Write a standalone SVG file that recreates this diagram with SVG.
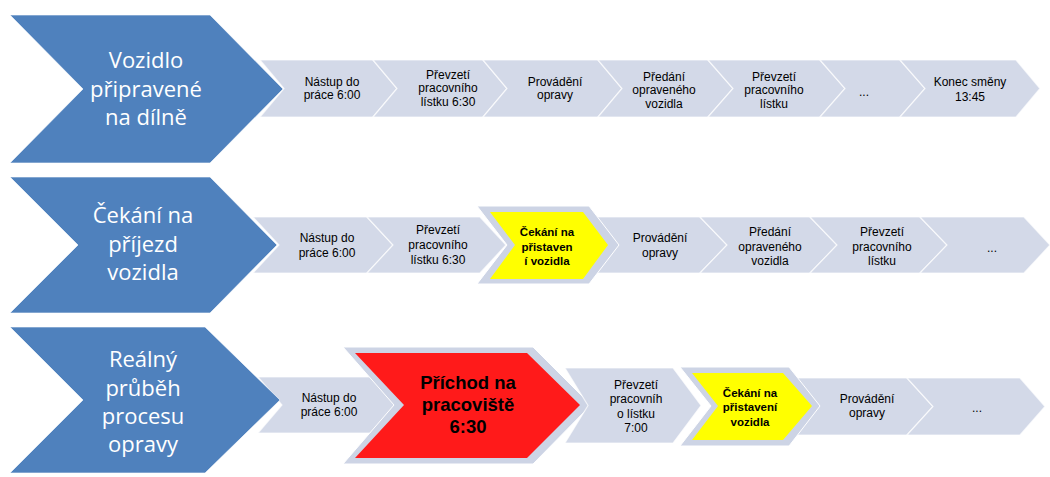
<svg xmlns="http://www.w3.org/2000/svg" width="1050" height="477" viewBox="0 0 1050 477">
<style>
.big{fill:#4F81BD;stroke:#ffffff;stroke-width:1;stroke-opacity:0.6}
.ch{fill:#D3D9E8;stroke:#ffffff;stroke-width:1.2;stroke-opacity:0.7}
.hl{fill:#CDD4E5;stroke:#ffffff;stroke-width:1}
.yel{fill:#FFFF00}
.red{fill:#FF1A1A}
.bt{font-family:"Open Sans","DejaVu Sans",sans-serif;font-size:22px;fill:#ffffff;text-anchor:middle}
.st{font-family:"Liberation Sans",Arial,sans-serif;font-size:12px;fill:#000000;text-anchor:middle}
.sb{font-family:"Liberation Sans",Arial,sans-serif;font-size:11.5px;font-weight:bold;fill:#000000;text-anchor:middle}
.rb{font-family:"Liberation Sans",Arial,sans-serif;font-size:18.5px;font-weight:bold;fill:#000000;text-anchor:middle}
</style>
<g id="connectors"></g>

<!-- Row 1 -->
<g id="r1-n1"><polygon class="ch" points="260,60 373,60 397,88.5 373,117 260,117 284,88.5"/><text class="st" x="332" y="86">Nástup do</text><text class="st" x="332" y="99">práce 6:00</text></g>
<g id="r1-n2"><polygon class="ch" points="373,60 483,60 507,88.5 483,117 373,117 397,88.5"/><text class="st" x="448" y="79">Převzetí</text><text class="st" x="448" y="92">pracovního</text><text class="st" x="448" y="106">lístku 6:30</text></g>
<g id="r1-n3"><polygon class="ch" points="483,60 598,60 622,88.5 598,117 483,117 507,88.5"/><text class="st" x="555" y="86">Provádění</text><text class="st" x="555" y="99">opravy</text></g>
<g id="r1-n4"><polygon class="ch" points="598,60 708,60 733,88.5 708,117 598,117 622,88.5"/><text class="st" x="664" y="81">Předání</text><text class="st" x="664" y="94">opraveného</text><text class="st" x="664" y="108">vozidla</text></g>
<g id="r1-n5"><polygon class="ch" points="708,60 820,60 845,88.5 820,117 708,117 733,88.5"/><text class="st" x="774" y="81">Převzetí</text><text class="st" x="774" y="94">pracovního</text><text class="st" x="774" y="108">lístku</text></g>
<g id="r1-n6"><polygon class="ch" points="820,60 900,60 925,88.5 900,117 820,117 845,88.5"/><text class="st" x="864" y="96">...</text></g>
<g id="r1-n7"><polygon class="ch" points="900,60 1016,60 1040,88.5 1016,117 900,117 925,88.5"/><text class="st" x="970" y="86">Konec směny</text><text class="st" x="970" y="101">13:45</text></g>
<g id="r1-main"><polygon class="big" points="10,15 210,15 283,89 210,163 10,163 83,89"/><text class="bt" x="146" y="68">Vozidlo</text><text class="bt" x="146" y="96.5">připravené</text><text class="bt" x="146" y="125">na dílně</text></g>

<!-- Row 2 -->
<g id="r2-n1"><polygon class="ch" points="253,217 367,217 393,245 367,273 253,273 279,245"/><text class="st" x="327" y="242">Nástup do</text><text class="st" x="327" y="257">práce 6:00</text></g>
<g id="r2-n2"><polygon class="ch" points="367,217 480,217 506,245 480,273 367,273 393,245"/><text class="st" x="438" y="234">Převzetí</text><text class="st" x="438" y="249">pracovního</text><text class="st" x="438" y="264">lístku 6:30</text></g>
<g id="r2-n4"><polygon class="ch" points="588,217 700,217 727,245 700,273 588,273 614,245"/><text class="st" x="660" y="242">Provádění</text><text class="st" x="660" y="257">opravy</text></g>
<g id="r2-n5"><polygon class="ch" points="700,217 810,217 837,245 810,273 700,273 727,245"/><text class="st" x="770" y="236">Předání</text><text class="st" x="770" y="251">opraveného</text><text class="st" x="770" y="265">vozidla</text></g>
<g id="r2-n6"><polygon class="ch" points="810,217 920,217 947,245 920,273 810,273 837,245"/><text class="st" x="882" y="236">Převzetí</text><text class="st" x="882" y="251">pracovního</text><text class="st" x="882" y="265">lístku</text></g>
<g id="r2-n7"><polygon class="ch" points="920,217 1024,217 1050,245 1024,273 920,273 947,245"/><text class="st" x="992" y="252">...</text></g>
<g id="r2-n3"><polygon class="hl" points="477,206 589,206 619,245 589,284 477,284 507,245"/><polygon class="yel" points="490,212 583,212 608,245 583,279 490,279 515,245"/><text class="sb" x="547" y="236">Čekání na</text><text class="sb" x="547" y="251">přistaven</text><text class="sb" x="547" y="265">í vozidla</text></g>
<g id="r2-main"><polygon class="big" points="10,177 210,177 277,245 210,313 10,313 78,245"/><text class="bt" x="143" y="223">Čekání na</text><text class="bt" x="143" y="251.5">příjezd</text><text class="bt" x="143" y="280">vozidla</text></g>

<!-- Row 3 -->
<g id="r3-n1"><polygon class="ch" points="258,377 373,377 397,405 373,433 258,433 282,405"/><text class="st" x="329" y="402">Nástup do</text><text class="st" x="329" y="416">práce 6:00</text></g>
<g id="r3-n2"><polygon class="hl" points="343,347 533,347 591,405 533,464 343,464 394,405"/><polygon class="red" points="355,353 527,353 580,405 527,458 355,458 404,405"/><text class="rb" x="468" y="389">Příchod na</text><text class="rb" x="468" y="411">pracoviště</text><text class="rb" x="468" y="433">6:30</text></g>
<g id="r3-n3"><polygon class="ch" points="565,368 673,368 701,405.5 673,443 565,443 588,405.5"/><text class="st" x="636" y="389">Převzetí</text><text class="st" x="636" y="403">pracovníh</text><text class="st" x="636" y="418">o lístku</text><text class="st" x="636" y="432">7:00</text></g>
<g id="r3-n5"><polygon class="ch" points="790,378 907,378 933,406.5 907,435 790,435 816,406.5"/><text class="st" x="867" y="403">Provádění</text><text class="st" x="867" y="417">opravy</text></g>
<g id="r3-n6"><polygon class="ch" points="907,378 1020,378 1045,406.5 1020,435 907,435 933,406.5"/><text class="st" x="977" y="412">...</text></g>
<g id="r3-n4"><polygon class="hl" points="680,367 789,367 820,406 789,446 680,446 711,406"/><polygon class="yel" points="692,373 783,373 812,406 783,440 692,440 718,406"/><text class="sb" x="750" y="397">Čekání na</text><text class="sb" x="750" y="411">přistavení</text><text class="sb" x="750" y="426">vozidla</text></g>
<g id="r3-main"><polygon class="big" points="10,327 205,327 280,400 205,473 10,473 83,400"/><text class="bt" x="143" y="367">Reálný</text><text class="bt" x="143" y="395.5">průběh</text><text class="bt" x="143" y="423.5">procesu</text><text class="bt" x="143" y="452">opravy</text></g>
</svg>
